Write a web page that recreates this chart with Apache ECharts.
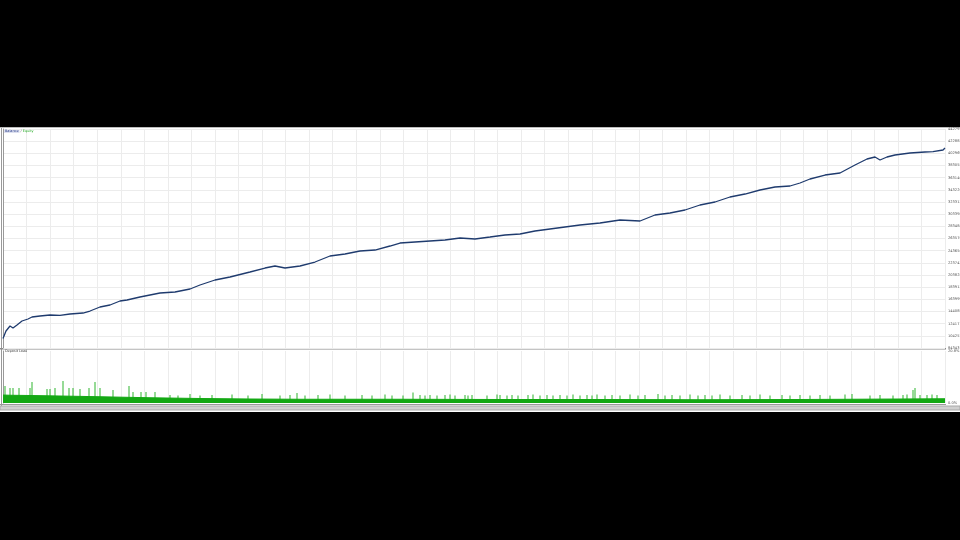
<!DOCTYPE html>
<html>
<head>
<meta charset="utf-8">
<script src="https://cdn.jsdelivr.net/npm/echarts@6/dist/echarts.min.js"></script>
<style>
html,body{margin:0;padding:0;background:#000;width:960px;height:540px;overflow:hidden;}
#c{position:absolute;left:0;top:127px;width:960px;height:285px;background:#fff;}
</style>
</head>
<body>
<div id="c"></div>
<script>
// ---- data ----
var yTickLabels = ["84343","104257","124171","144085","163999","183913","203828","223742","243656","263570","283484","303398","323312","343226","363140","383055","402969","422883","442797"];
var loadTickLabels = ["0.0%","20.8%"];

var balanceTrade = [0,3,7,10,14,19,25,29,37,47,57,67,80,87,97,107,117,124,137,147,157,172,187,197,212,227,247,262,272,282,297,312,327,342,357,372,387,397,412,427,442,457,472,487,502,517,532,547,562,577,597,617,637,652,667,682,697,712,727,742,757,772,787,797,807,822,837,852,864,872,877,884,892,907,922,930,940,942];
var balanceValue = [100000,112160,120350,117070,121980,128530,131800,135080,136710,138350,137900,139990,141630,144900,151450,154720,161270,162900,167820,171090,174360,176000,180910,187460,195640,200550,208740,215280,218560,215280,218560,225100,234920,238200,243110,244740,251290,256200,257840,259480,261110,264390,262750,266020,269300,270930,275840,279120,282390,285660,288940,293850,292210,302030,305310,310220,318400,323310,331500,336400,342950,347860,349500,354410,360960,367500,370780,383870,393690,396970,392060,396970,400240,403510,405150,405800,408420,411700];

var loadBaseTrade = [0,7,27,57,97,147,197,247,297,397,497,597,697,797,847,897,942];
var loadBaseValue = [3.2,3.1,3.0,2.8,2.5,2.1,1.8,1.6,1.5,1.5,1.4,1.4,1.3,1.4,1.5,1.6,1.7];

var loadSpikeTrade = [2,7,10,16,27,29,44,47,52,60,66,70,77,86,92,97,110,126,130,138,143,152,167,175,187,197,209,229,245,259,277,287,294,302,315,327,342,359,369,382,389,400,410,417,422,427,434,442,447,452,462,465,469,484,494,497,504,509,515,525,530,537,544,550,557,564,570,577,584,589,594,602,609,617,627,635,642,655,662,669,677,687,695,702,709,717,727,739,747,757,767,779,787,797,807,817,827,842,849,867,877,890,900,904,910,912,917,924,929,934];
var loadSpikeValue = [6.8,6.0,6.0,6.0,6.0,8.4,5.6,5.6,6.0,8.8,6.0,6.0,5.6,6.0,8.4,6.0,5.2,6.8,4.4,4.4,4.4,4.4,3.2,3.0,3.6,3.0,3.2,3.4,3.0,3.6,3.0,3.2,4.0,3.0,3.2,3.4,3.0,3.2,3.0,3.4,3.0,3.0,4.2,3.2,3.0,3.2,3.0,3.2,3.4,3.0,3.2,3.0,3.2,3.0,3.4,3.2,3.0,3.2,3.0,3.2,3.4,3.0,3.2,3.0,3.2,3.0,3.4,3.0,3.2,3.0,3.4,3.0,3.2,3.0,3.4,3.0,3.2,3.6,3.0,3.2,3.0,3.4,3.0,3.2,3.0,3.4,3.0,3.2,3.0,3.4,3.0,3.2,3.0,3.2,3.0,3.2,3.0,3.4,3.6,3.0,3.2,3.0,3.2,3.4,5.2,6.0,3.2,3.2,3.4,3.2];

function zip(a,b){return a.map(function(v,i){return [v,b[i]];});}

var yMin = 84343, yMax = 442797, yStep = (yMax - yMin) / 18;
var gridCol = '#ececec';
var labelFont = {fontSize:3.6,color:'#555',fontFamily:'DejaVu Sans'};

var chart = echarts.init(document.getElementById('c'), null, {renderer:'canvas'});
chart.setOption({
  animation:false,
  backgroundColor:'#fff',
  title:[
    {left:4,top:3,padding:0,text:'{b|Balance} / {e|Equity}',textStyle:{fontSize:3.4,fontFamily:'DejaVu Sans',color:'#666',fontWeight:'normal',rich:{b:{fontSize:3.4,color:'#2a3f8a',backgroundColor:'#dde0f0',padding:[0,1]},e:{fontSize:3.4,color:'#22aa22'}}}},
    {left:5,top:223,padding:0,text:'Deposit Load',textStyle:{fontSize:3.4,fontFamily:'DejaVu Sans',color:'#444',fontWeight:'normal'}}
  ],
  grid:[
    {left:3,right:15,top:2,height:219,containLabel:false,outerBoundsMode:'none'},
    {left:3,right:15,top:224,height:52,containLabel:false,outerBoundsMode:'none'}
  ],
  xAxis:[
    {gridIndex:0,type:'value',min:0,max:942,interval:23.55,axisLabel:{show:false},axisTick:{show:false},axisLine:{show:false},splitLine:{show:true,lineStyle:{color:gridCol,width:1}}},
    {gridIndex:1,type:'value',min:0,max:942,interval:23.55,axisLabel:{show:false},axisTick:{show:false},axisLine:{show:false},splitLine:{show:true,lineStyle:{color:gridCol,width:1}}}
  ],
  yAxis:[
    {gridIndex:0,type:'value',position:'right',min:yMin,max:yMax,interval:yStep,
      axisLine:{show:true,lineStyle:{color:'#999'}},axisTick:{show:false},
      axisLabel:Object.assign({margin:3,formatter:function(v){var i=Math.round((v-yMin)/yStep);return yTickLabels[i]||'';}},labelFont),
      splitLine:{show:true,lineStyle:{color:gridCol}}},
    {gridIndex:1,type:'value',position:'right',min:0,max:20.8,interval:20.8,
      axisLine:{show:true,lineStyle:{color:'#999'}},axisTick:{show:false},
      axisLabel:Object.assign({margin:3,formatter:function(v){return v<=0?loadTickLabels[0]:loadTickLabels[1];}},labelFont),
      splitLine:{show:false}}
  ],
  series:[
    {type:'line',xAxisIndex:0,yAxisIndex:0,data:zip(balanceTrade,balanceValue),showSymbol:false,symbol:'none',
      lineStyle:{color:'#1f3b6e',width:1.3}},
    {type:'bar',xAxisIndex:1,yAxisIndex:1,data:zip(loadSpikeTrade,loadSpikeValue),barWidth:1,
      itemStyle:{color:'#2fb52f'}},
    {type:'line',xAxisIndex:1,yAxisIndex:1,data:zip(loadBaseTrade,loadBaseValue),showSymbol:false,symbol:'none',
      lineStyle:{color:'#13a813',width:1},areaStyle:{color:'#13a813',opacity:1}}
  ],
  graphic:[
    {type:'line',shape:{x1:1.5,y1:0,x2:1.5,y2:279},style:{stroke:'#999',lineWidth:1}},
    {type:'line',shape:{x1:0,y1:0.5,x2:960,y2:0.5},style:{stroke:'#bbb',lineWidth:1}},
    {type:'rect',shape:{x:0,y:221,width:946,height:1.6},style:{fill:'#8a8a8a'}},
    {type:'line',shape:{x1:0,y1:277.5,x2:946,y2:277.5},style:{stroke:'#999',lineWidth:1}},
    {type:'rect',shape:{x:0,y:279,width:960,height:4},style:{fill:'#d0d0d0',stroke:'#a8a8a8',lineWidth:1}}
  ]
});
</script>
</body>
</html>
